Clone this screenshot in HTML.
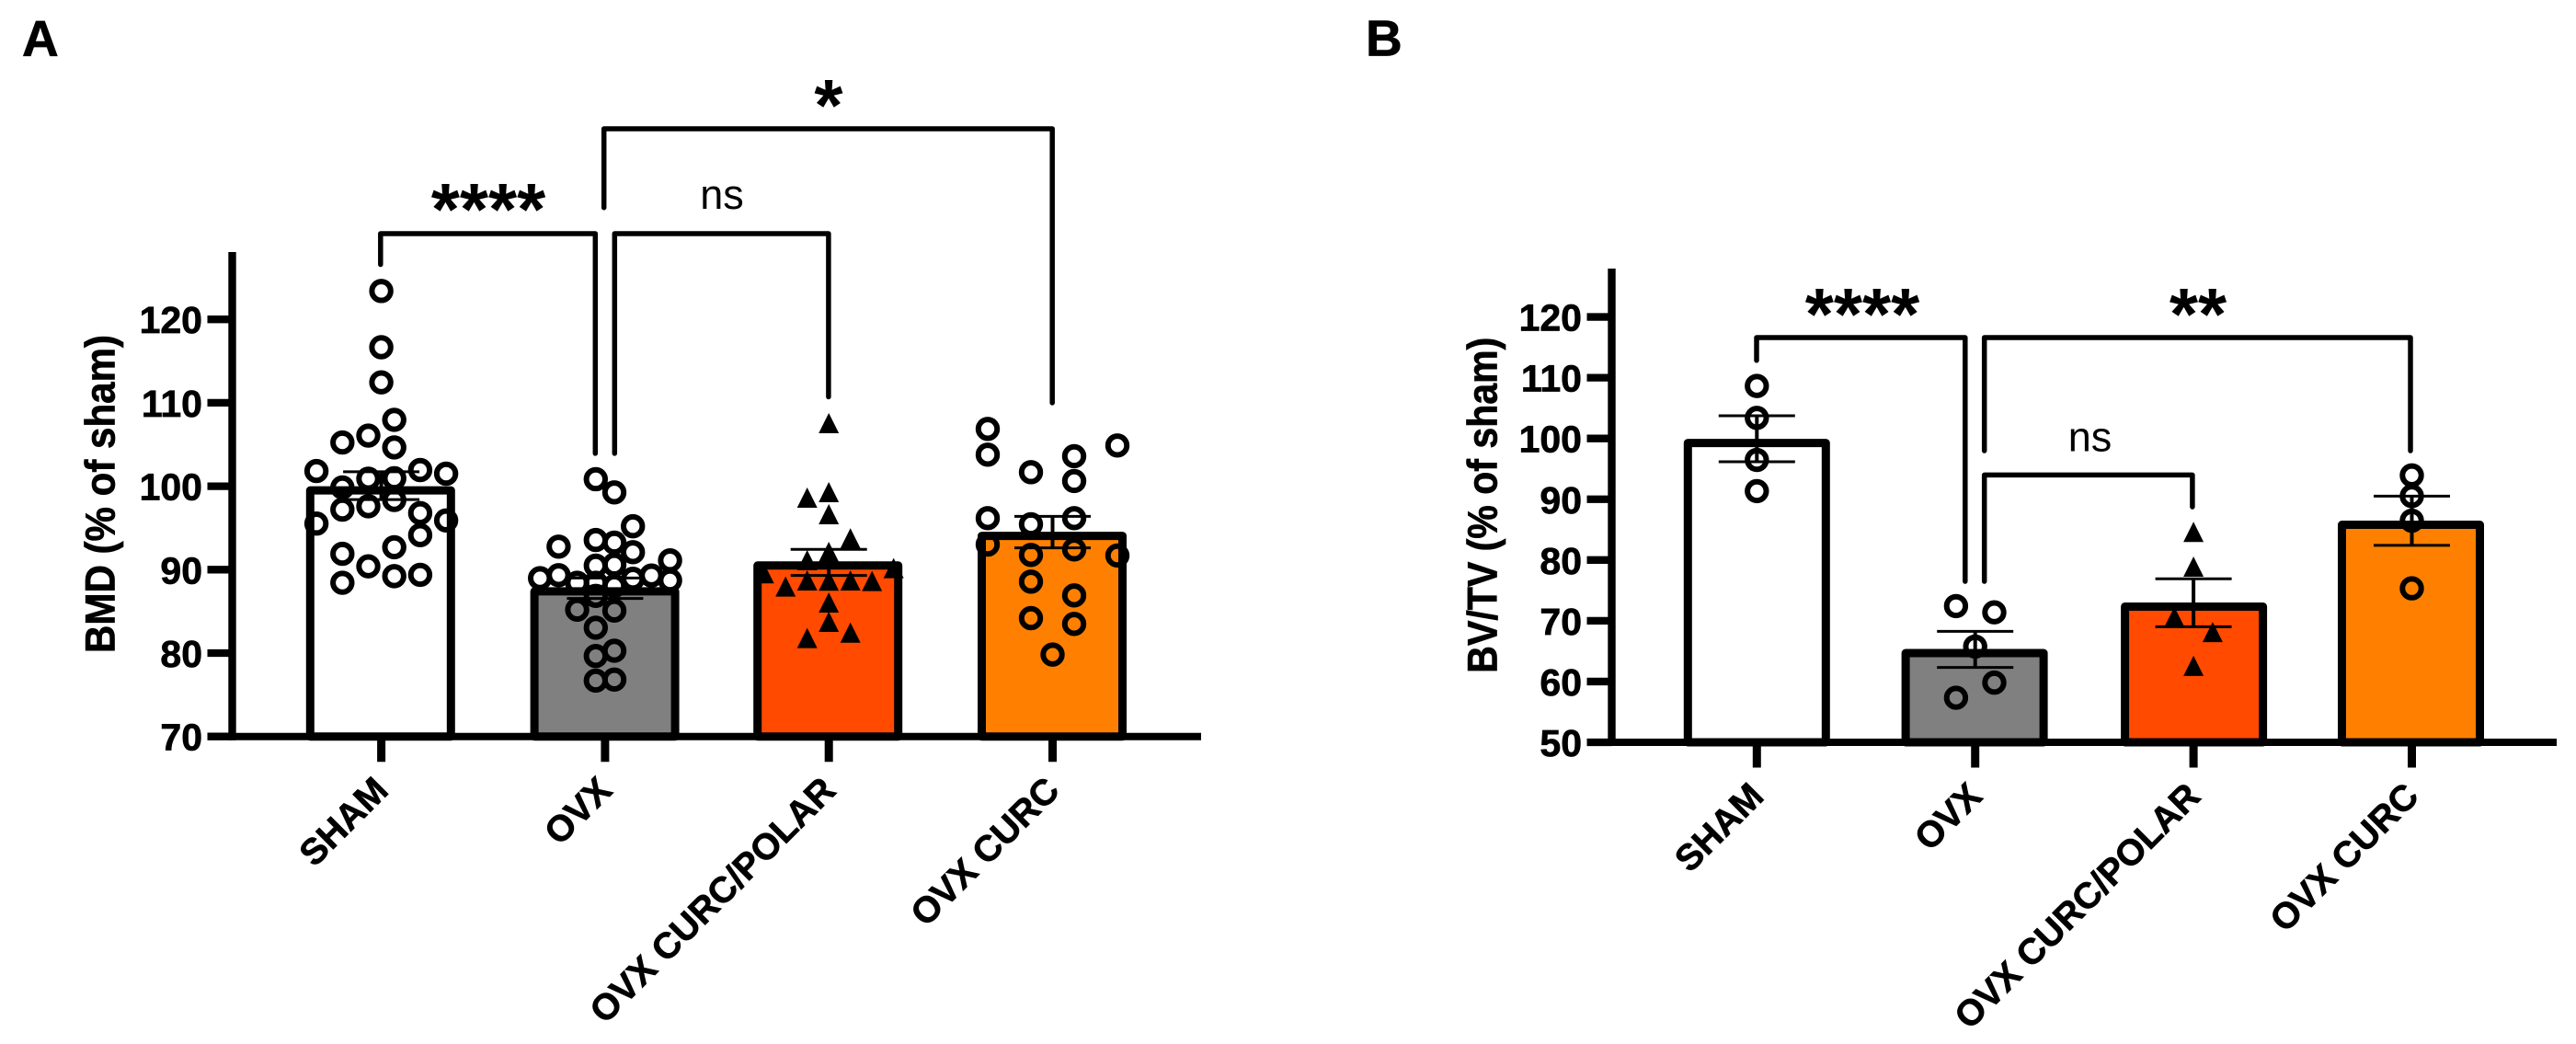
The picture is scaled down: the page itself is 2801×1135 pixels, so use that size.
<!DOCTYPE html>
<html lang="en">
<head>
<meta charset="utf-8">
<title>BMD and BV/TV bar charts</title>
<style>
html,body{margin:0;padding:0;background:#fff;}
#figure{display:block;width:2801px;height:1135px;background:#fff;}
text{font-family:"Liberation Sans",Arial,sans-serif;fill:#000;}
text.heavy{stroke:#000;stroke-width:0.7px;}
</style>
</head>
<body>
<svg id="figure" xmlns="http://www.w3.org/2000/svg" width="2801" height="1135" viewBox="0 0 2801 1135"></svg>
<script>
// ---------- shared data ----------
const categories = ['SHAM', 'OVX', 'OVX CURC/POLAR', 'OVX CURC'];
const barColors = ['#ffffff', '#808080', '#ff4a00', '#ff8000'];
const markerKinds = ['ring', 'ring', 'triangle', 'ring'];

// ---------- panel A data ----------
const ticksA = [70, 80, 90, 100, 110, 120];
const meansA = [99.5, 87.4, 90.5, 94.05];
const errHighA = [101.74, 89.0, 92.43, 96.39];
const errLowA = [98.4, 86.54, 89.3, 92.61];
const shamA = [123.4, 116.66, 112.45, 107.96, 106.07, 105.24, 104.65, 101.82, 101.94, 101.5, 100.9, 100.95, 99.85, 98.35, 97.6, 97.2, 96.78, 95.52, 95.9, 94.14, 92.69, 91.9, 90.4, 89.22, 89.38, 88.43];
const shamSlotsA = [0, 0, 0, 0.5, -0.5, -1.5, 0.5, -2.5, 1.5, 2.5, -0.5, 0.5, -1.5, 0.5, -0.5, -1.5, 1.5, -2.5, 2.5, 1.5, 0.5, -1.5, -0.5, 0.5, 1.5, -1.5];
const ovxA = [100.84, 99.26, 95.2, 92.76, 93.55, 93.24, 92.09, 91.11, 90.48, 90.6, 89.34, 88.98, 88.43, 89.3, 88.71, 88.91, 88.43, 88.04, 86.86, 85.2, 85.09, 83.04, 80.28, 79.65, 76.82, 76.7];
const ovxSlotsA = [-0.5, 0.5, 1.5, -2.5, -0.5, 0.5, 1.5, 3.5, -0.5, 0.5, -2.5, -3.5, -1.5, 2.5, 3.5, 1.5, -0.5, 0.5, -0.5, -1.5, 0.5, -0.5, 0.5, -0.5, 0.5, -0.5];
const polarA = [107.57, 99.3, 98.63, 96.65, 93.75, 92.13, 91.14, 90.18, 89.56, 88.71, 88.68, 88.71, 88.64, 87.98, 86.07, 83.75, 82.46, 81.8];
const polarSlotsA = [0, 0, -1, 0, 1, 0, -1, 3, -3, -1, 0, 1, 2, -2, 0, 0, 1, -1];
const curcA = [106.87, 103.78, 104.88, 101.68, 103.6, 100.62, 96.17, 96.17, 95.44, 93.01, 91.76, 92.42, 91.69, 88.56, 86.91, 84.19, 83.49, 79.82];
const curcSlotsA = [-3, -3, 3, -1, 1, 1, -3, 1, -1, -3, -1, 1, 3, -1, 1, -1, 1, 0];

// ---------- panel B data ----------
const ticksB = [50, 60, 70, 80, 90, 100, 110, 120];
const meansB = [99.26, 64.68, 72.33, 85.8];
const errHighB = [103.74, 68.26, 76.9, 90.52];
const errLowB = [96.17, 62.31, 69.01, 82.41];
const shamB = [108.64, 103.39, 96.47, 91.34];
const shamSlotsB = [0, 0, 0, 0];
const ovxB = [72.42, 71.39, 65.76, 59.82, 57.33];
const ovxSlotsB = [-1, 1, 0, 1, -1];
const polarB = [84.63, 78.91, 70.63, 68.15, 62.58];
const polarSlotsB = [0, 0, -1, 1, 0];
const curcB = [93.93, 90.52, 86.48, 75.34];
const curcSlotsB = [0, 0, 0, 0];

const NS = 'http://www.w3.org/2000/svg';
const root = document.getElementById('figure');

function make(parent, tag, attrs, content) {
  const node = document.createElementNS(NS, tag);
  for (const k in attrs) node.setAttribute(k, attrs[k]);
  if (content !== undefined) node.textContent = content;
  parent.appendChild(node);
  return node;
}

function slug(s) {
  return s.toLowerCase().replace(/[^a-z0-9]+/g, '-');
}

function drawPanel(p) {
  const y = v => p.y0 - (v - p.vMin) * p.pxPerUnit;
  const x = i => p.x0 + i * p.step;

  const g = make(root, 'g', {});
  
  

  // panel letter
  const letter = make(g, 'text', {x: p.letterX, y: 60.7, 'font-size': 55, 'font-weight': 700, class: 'heavy'}, p.letter);
  
  

  // bars
  p.means.forEach((m, i) => {
    const bar = make(g, 'rect', {
      x: x(i) + p.barShift[i] - p.barHalf, y: y(m), width: 2 * p.barHalf, height: p.y0 - y(m),
      fill: barColors[i], stroke: '#000', 'stroke-width': 9, 'stroke-linejoin': 'round'
    });
    
    
  });

  // points
  p.series.forEach((vals, i) => {
    const slots = p.slots[i];
    const grp = make(g, 'g', {});
    
    
    vals.forEach((v, k) => {
      const cx = x(i) + slots[k] * p.slotUnit[i];
      const cy = y(v);
      let mark;
      if (markerKinds[i] === 'ring') {
        mark = make(grp, 'circle', {cx: cx, cy: cy, r: 10.2, fill: 'none', stroke: '#000', 'stroke-width': 6});
      } else {
        mark = make(grp, 'polygon', {
          points: cx + ',' + (cy - 11) + ' ' + (cx + 11) + ',' + (cy + 11) + ' ' + (cx - 11) + ',' + (cy + 11),
          fill: '#000'
        });
      }
      
      
    });
  });

  // error bars
  p.means.forEach((m, i) => {
    const cx = x(i);
    const eg = make(g, 'g', {stroke: '#000', fill: 'none'});
    
    
    make(eg, 'line', {x1: cx, x2: cx, y1: y(p.errHigh[i]), y2: y(p.errLow[i]), 'stroke-width': 4});
    make(eg, 'line', {x1: cx - 41.5, x2: cx + 41.5, y1: y(p.errHigh[i]), y2: y(p.errHigh[i]), 'stroke-width': 3});
    make(eg, 'line', {x1: cx - 41.5, x2: cx + 41.5, y1: y(p.errLow[i]), y2: y(p.errLow[i]), 'stroke-width': 3});
  });

  // y axis
  const ya = make(g, 'g', {stroke: '#000', fill: 'none'});
  
  
  make(ya, 'line', {x1: p.axisX, x2: p.axisX, y1: p.axisTop, y2: p.y0 + 4, 'stroke-width': 8.4});
  p.ticks.forEach(t => {
    make(ya, 'line', {x1: p.axisX - 27, x2: p.axisX, y1: y(t), y2: y(t), 'stroke-width': 8.3});
    const lab = make(g, 'text', {x: p.axisX - 32.5, y: y(t) + 15, 'font-size': 41, 'font-weight': 700, 'text-anchor': 'end', class: 'heavy'}, String(t));
    
    
  });
  const title = make(g, 'text', {
    transform: 'translate(' + p.titleX + ',' + p.titleY + ') rotate(-90)',
    'font-size': 45, 'font-weight': 700, textLength: p.titleLen, lengthAdjust: 'spacingAndGlyphs', class: 'heavy'
  }, p.title);
  
  

  // x axis
  const xa = make(g, 'g', {stroke: '#000', fill: 'none'});
  
  
  make(xa, 'line', {x1: p.axisX - 4, x2: p.axisRight, y1: p.y0, y2: p.y0, 'stroke-width': 8});
  categories.forEach((c, i) => {
    make(xa, 'line', {x1: x(i), x2: x(i), y1: p.y0, y2: p.y0 + 27.5, 'stroke-width': 9});
    const lx = x(i) + 9.5;
    const ly = p.y0 + 60.8;
    const lab = make(g, 'text', {
      x: lx, y: ly, transform: 'rotate(-45 ' + lx + ' ' + ly + ')',
      'font-size': 39.5, 'font-weight': 700, 'text-anchor': 'end', class: 'heavy'
    }, c);
    
    
  });

  // significance brackets
  p.brackets.forEach((b, n) => {
    const path = make(g, 'path', {
      d: 'M' + b.x1 + ' ' + b.leg1 + 'V' + b.top + 'H' + b.x2 + 'V' + b.leg2,
      fill: 'none', stroke: '#000', 'stroke-width': 5.5, 'stroke-linejoin': 'round', 'stroke-linecap': 'round'
    });
    
    
    const isStar = b.label !== 'ns';
    const mark = make(g, 'text', {
      x: b.labelX, y: b.labelY, 'font-size': isStar ? 80 : 45, 'font-weight': isStar ? 700 : 400, 'text-anchor': 'middle'
    }, b.label);
    
    
  });
}

drawPanel({
  id: 'a', letter: 'A', letterX: 24,
  y0: 800.7, vMin: 70, pxPerUnit: 9.07, x0: 414.6, step: 243.3,
  axisX: 252.5, axisTop: 274, axisRight: 1306,
  barHalf: 76.5, barShift: [-0.8, -0.3, -1, -0.5],
  ticks: ticksA, means: meansA, errHigh: errHighA, errLow: errLowA,
  series: [shamA, ovxA, polarA, curcA],
  slots: [shamSlotsA, ovxSlotsA, polarSlotsA, curcSlotsA],
  slotUnit: [28.2, 20.2, 23.5, 23.5],
  title: 'BMD (% of sham)', titleX: 124.3, titleY: 710, titleLen: 346,
  brackets: [
    {x1: 413.8, x2: 647.3, top: 254, leg1: 287.5, leg2: 492.9, label: '****', labelX: 531, labelY: 255},
    {x1: 668.3, x2: 900.9, top: 254, leg1: 492.9, leg2: 431.4, label: 'ns', labelX: 785, labelY: 226.8},
    {x1: 656.7, x2: 1144.2, top: 140, leg1: 225.7, leg2: 437.9, label: '*', labelX: 901, labelY: 142}
  ]
});

drawPanel({
  id: 'b', letter: 'B', letterX: 1485,
  y0: 807, vMin: 50, pxPerUnit: 6.606, x0: 1910.3, step: 237.4,
  axisX: 1752.5, axisTop: 292, axisRight: 2780,
  barHalf: 75, barShift: [0, -0.6, 0.5, -1],
  ticks: ticksB, means: meansB, errHigh: errHighB, errLow: errLowB,
  series: [shamB, ovxB, polarB, curcB],
  slots: [shamSlotsB, ovxSlotsB, polarSlotsB, curcSlotsB],
  slotUnit: [20.8, 20.8, 20.8, 20.8],
  title: 'BV/TV (% of sham)', titleX: 1627.3, titleY: 731.7, titleLen: 365,
  brackets: [
    {x1: 1910, x2: 2136.8, top: 367, leg1: 391.8, leg2: 632, label: '****', labelX: 2025, labelY: 369},
    {x1: 2157.7, x2: 2621, top: 367, leg1: 490, leg2: 490, label: '**', labelX: 2390, labelY: 369},
    {x1: 2157.7, x2: 2383.9, top: 516.4, leg1: 632, leg2: 551, label: 'ns', labelX: 2272.5, labelY: 490.4}
  ]
});
</script>
</body>
</html>
